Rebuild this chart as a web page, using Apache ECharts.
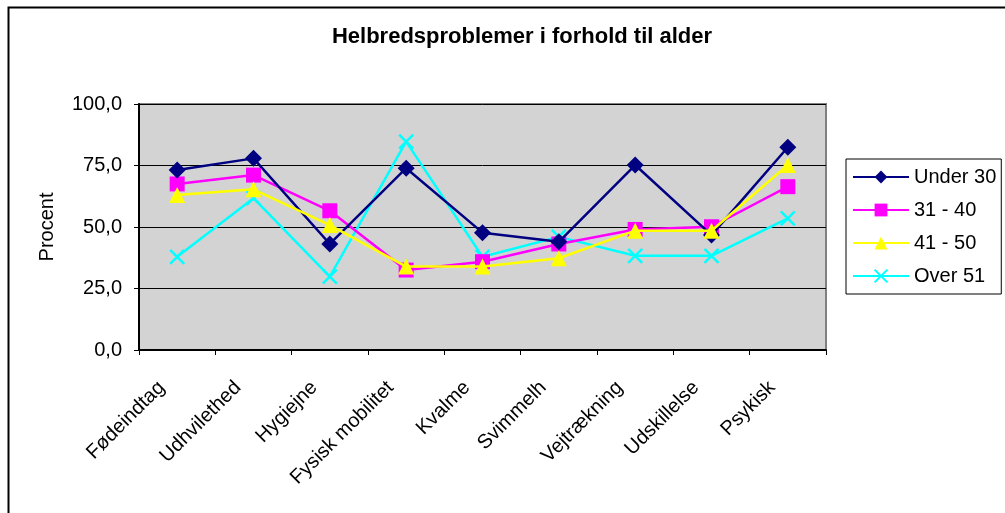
<!DOCTYPE html>
<html>
<head>
<meta charset="utf-8">
<script src="https://cdn.jsdelivr.net/npm/echarts@6/dist/echarts.min.js"></script>
<style>
  html, body { margin: 0; padding: 0; background: #fff; }
  #main { width: 1005px; height: 513px; }
</style>
</head>
<body>
<div id="main"></div>
<script>
// kategorier og vaerdier (aflaest fra figuren)
var categories = ['Fødeindtag', 'Udhvilethed', 'Hygiejne', 'Fysisk mobilitet', 'Kvalme', 'Svimmelh', 'Vejtrækning', 'Udskillelse', 'Psykisk'];
var under30 = [73.2, 77.9, 43.1, 73.9, 47.7, 44.0, 75.2, 46.7, 82.4];
var age31_40 = [67.5, 71.1, 56.6, 32.5, 35.9, 43.1, 49.0, 50.1, 66.4];
var age41_50 = [63.0, 65.3, 50.8, 33.9, 33.9, 37.3, 48.5, 48.5, 75.2];
var over51 = [37.9, 61.7, 29.8, 84.7, 37.9, 46.0, 38.3, 38.3, 53.5];
var yTicks = [0, 25, 50, 75, 100];

var fontName = '"Liberation Sans", Arial, sans-serif';

var myChart = echarts.init(document.getElementById('main'));

var option = {
    backgroundColor: '#ffffff',
    animation: false,
    textStyle: { fontFamily: fontName },
    title: {
        text: 'Helbredsproblemer i forhold til alder',
        left: 517,
        top: 21,
        textAlign: 'center',
        textStyle: { fontFamily: fontName, fontSize: 22, fontWeight: 'bold', color: '#000' }
    },
    graphic: [
        {   // ramme om hele diagrammet
            type: 'rect',
            left: 6, top: 5,
            shape: { width: 1100, height: 600 },
            style: { fill: 'none', stroke: '#000', lineWidth: 2 },
            z: 100
        }
    ],
    legend: {
        orient: 'vertical',
        left: 846,
        top: 159,
        padding: [8, 5, 8, 6],
        itemWidth: 56,
        itemHeight: 16,
        itemGap: 13,
        backgroundColor: '#ffffff',
        borderColor: '#000',
        borderWidth: 1,
        textStyle: { fontFamily: fontName, fontSize: 20, color: '#000' },
        data: ['Under 30', '31 - 40', '41 - 50', 'Over 51']
    },
    grid: {
        left: 139,
        top: 104,
        right: 179,
        bottom: 163,
        show: true,
        backgroundColor: '#d3d3d3',
        borderColor: '#808080',
        borderWidth: 2
    },
    xAxis: {
        type: 'category',
        data: categories,
        boundaryGap: true,
        axisLine: { lineStyle: { color: '#000', width: 2 } },
        axisTick: { show: true, length: 5, inside: false, lineStyle: { color: '#000' } },
        axisLabel: {
            rotate: 45,
            margin: 19,
            padding: [0, 22, 0, 0],
            fontSize: 20,
            color: '#000',
            fontFamily: fontName,
            interval: 0
        }
    },
    yAxis: {
        type: 'value',
        min: yTicks[0],
        max: yTicks[yTicks.length - 1],
        interval: 25,
        name: 'Procent',
        nameLocation: 'middle',
        nameGap: 82,
        nameTextStyle: { fontFamily: fontName, fontSize: 20, color: '#000' },
        axisLine: { show: true, lineStyle: { color: '#000', width: 2 } },
        axisTick: { show: true, length: 5, lineStyle: { color: '#000' } },
        splitLine: { show: true, lineStyle: { color: '#000', width: 1 } },
        axisLabel: {
            fontSize: 20,
            color: '#000',
            margin: 17,
            fontFamily: fontName,
            formatter: function (v) { return v.toFixed(1).replace('.', ','); }
        }
    },
    series: [
        {
            name: 'Under 30',
            type: 'line',
            data: under30,
            symbol: 'diamond',
            symbolSize: 17,
            lineStyle: { color: '#000080', width: 2.5 },
            itemStyle: { color: '#000080' },
            z: 5
        },
        {
            name: '31 - 40',
            type: 'line',
            data: age31_40,
            symbol: 'rect',
            symbolSize: 15,
            lineStyle: { color: '#ff00ff', width: 2.5 },
            itemStyle: { color: '#ff00ff' },
            z: 4
        },
        {
            name: '41 - 50',
            type: 'line',
            data: age41_50,
            symbol: 'triangle',
            symbolSize: 16,
            lineStyle: { color: '#ffff00', width: 2.5 },
            itemStyle: { color: '#ffff00' },
            z: 6
        },
        {
            name: 'Over 51',
            type: 'line',
            data: over51,
            symbol: 'path://M0,0L10,10M10,0L0,10',
            symbolSize: 14,
            lineStyle: { color: '#00ffff', width: 2.5 },
            itemStyle: { color: '#00ffff', borderColor: '#00ffff', borderWidth: 2.5 },
            z: 3
        }
    ]
};

myChart.setOption(option);
</script>
</body>
</html>
